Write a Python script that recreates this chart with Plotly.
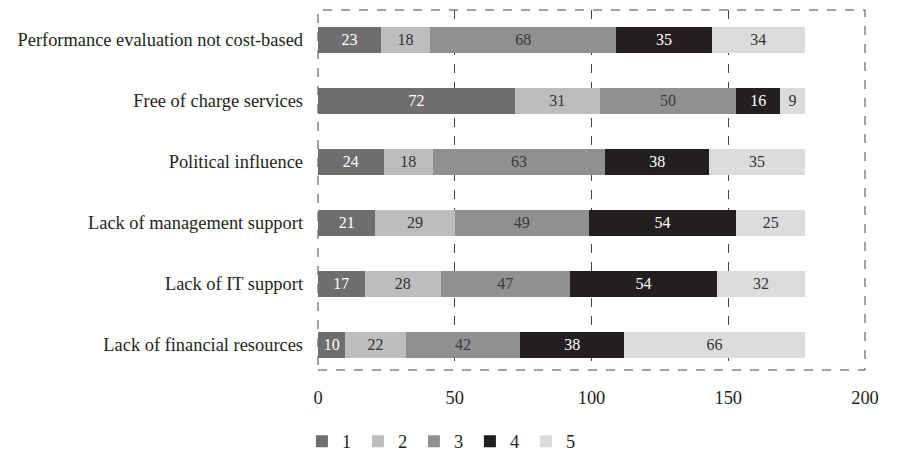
import plotly.graph_objects as go

categories = [
    "Performance evaluation not cost-based",
    "Free of charge services",
    "Political influence",
    "Lack of management support",
    "Lack of IT support",
    "Lack of financial resources",
]
series_names = ["1", "2", "3", "4", "5"]
s1 = [23, 72, 24, 21, 17, 10]
s2 = [18, 31, 18, 29, 28, 22]
s3 = [68, 50, 63, 49, 47, 42]
s4 = [35, 16, 38, 54, 54, 38]
s5 = [34, 9, 35, 25, 32, 66]
x_ticks = [0, 50, 100, 150, 200]

series_values = [s1, s2, s3, s4, s5]
colors = ["#6e6e70", "#bdbdbf", "#909092", "#231f20", "#dcdcdd"]
text_colors = ["#ffffff", "#333333", "#3a3a3a", "#ffffff", "#333333"]

FONT = "Liberation Serif"
fig = go.Figure()
for name, vals, c, tc in zip(series_names, series_values, colors, text_colors):
    fig.add_trace(go.Bar(
        y=categories, x=vals, name=name, orientation="h",
        marker=dict(color=c, line=dict(width=0)),
        text=[str(v) for v in vals], textposition="inside",
        insidetextanchor="middle",
        textfont=dict(family=FONT, size=16, color=tc),
        constraintext="none",
        width=0.426,
        hoverinfo="skip",
    ))

fig.update_layout(
    barmode="stack",
    width=900, height=458,
    margin=dict(l=310, r=43, t=2, b=96),
    paper_bgcolor="white", plot_bgcolor="white",
    font=dict(family=FONT, size=18.4, color="#231f20"),
    uniformtext=dict(minsize=16, mode="show"),
    showlegend=True,
    legend=dict(
        orientation="h", x=-0.0294, xanchor="left", y=-0.198, yanchor="middle",
        font=dict(family=FONT, size=18.4, color="#231f20"),
        entrywidth=11, entrywidthmode="pixels",
        traceorder="normal", itemclick=False,
    ),
    xaxis=dict(
        range=[0, 200], tickvals=x_ticks, ticktext=[str(t) for t in x_ticks],
        showgrid=True, gridcolor="#444444", griddash="dash", gridwidth=1,
        zeroline=False, showline=False, ticks="",
        ticklabelstandoff=15,
        tickfont=dict(family=FONT, size=18.4, color="#231f20"),
    ),
    yaxis=dict(
        categoryorder="array", categoryarray=categories,
        range=[5.41, -0.484], showgrid=False, zeroline=False,
        showline=False, ticks="", ticklabelstandoff=14,
        tickfont=dict(family=FONT, size=18.4, color="#231f20"),
    ),
    shapes=[dict(
        type="rect", xref="paper", yref="paper", x0=0, x1=1, y0=0, y1=1,
        line=dict(color="#444444", width=1, dash="dash"), layer="below",
    )],
)

fig.write_html("out.html")
